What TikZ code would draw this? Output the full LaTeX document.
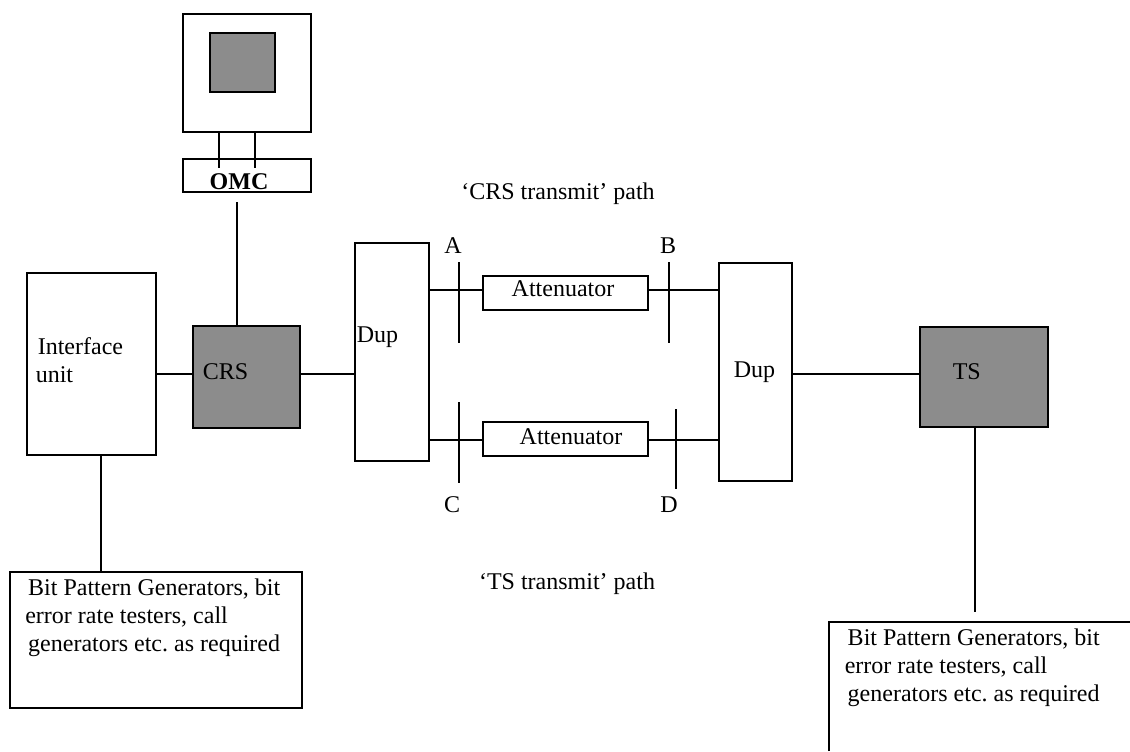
\documentclass[tikz,border=0pt]{standalone}
\usepackage{fontspec}
\setmainfont{Liberation Serif}
\usetikzlibrary{positioning}
\frenchspacing

\begin{document}
\begin{tikzpicture}[x=0.75pt, y=-0.75pt, line width=1.2pt,
                box/.style={draw, inner sep=0pt, outer sep=0pt, anchor=north west},
                darkbox/.style={box, fill=boxgrey},
                lbl/.style={inner sep=0pt, font=\fontsize{18}{21}\selectfont},
                leftlbl/.style={lbl, anchor=west, align=left}]
                \definecolor{boxgrey}{HTML}{8C8C8C}
                \useasboundingbox (0,0) rectangle (1130,751);

                % OMC with its terminal
                \node (term) [box, minimum width=128*0.75pt, minimum height=118*0.75pt] at (183,14) {};
                \node (screen) [darkbox, minimum width=65*0.75pt, minimum height=59*0.75pt] at (210,33) {};
                \node (omc) [box, minimum width=128*0.75pt, minimum height=33*0.75pt] at (183,159) {};
                \node (omclbl) [lbl, font=\fontsize{18}{21}\selectfont\bfseries] at (239,182) {OMC};
                \coordinate (omcl) at (219,168);
                \coordinate (omcr) at (255,168);
                \coordinate (omcout) at (237,202);

                % left hand side
                \node (iface) [box, minimum width=129*0.75pt, minimum height=182*0.75pt] at (27,273) {};
                \node (ifacelbl) [leftlbl] at (35,360) {\hspace{1.5pt}Interface\\unit};
                \node (crs) [darkbox, minimum width=107*0.75pt, minimum height=102*0.75pt] at (193,326) {};
                \node (crslbl) [leftlbl] at (202,372) {CRS};
                \node (bitl) [box, minimum width=292*0.75pt, minimum height=136*0.75pt] at (10,572) {};
                \node (bitllbl) [leftlbl, anchor=north west] at (24.5,578) {\hspace{2.2pt}Bit Pattern Generators, bit\\error rate testers, call\\\hspace{2.2pt}generators etc. as required};

                % duplexers and attenuators
                \node (dupa) [box, minimum width=74*0.75pt, minimum height=218*0.75pt] at (355,243) {};
                \node (dupalbl) [leftlbl] at (356,337) {Dup};
                \node (dupb) [box, minimum width=73*0.75pt, minimum height=218*0.75pt] at (719,263) {};
                \node (dupblbl) [leftlbl] at (733,372) {Dup};
                \node (atta) [box, minimum width=165*0.75pt, minimum height=34*0.75pt] at (483,276) {};
                \node (attalbl) [lbl] at (563,289) {Attenuator};
                \node (attb) [box, minimum width=165*0.75pt, minimum height=34*0.75pt] at (483,422) {};
                \node (attblbl) [lbl] at (571,437) {Attenuator};

                % test points
                \node (lblA) [lbl] at (453,246) {A};
                \node (lblB) [lbl] at (668,246) {B};
                \node (lblC) [lbl] at (452,505) {C};
                \node (lblD) [lbl] at (669,505) {D};
                \coordinate (tickAt) at (459,262);
                \coordinate (tickAb) at (459,343);
                \coordinate (tickBt) at (669,262);
                \coordinate (tickBb) at (669,343);
                \coordinate (tickCt) at (459,402);
                \coordinate (tickCb) at (459,483);
                \coordinate (tickDt) at (676,409);
                \coordinate (tickDb) at (676,489);

                \node (crspath) [lbl] at (558,194) {‘CRS transmit’ path};
                \node (tspath) [lbl] at (567,584) {‘TS transmit’ path};

                % right hand side
                \node (ts) [darkbox, minimum width=128*0.75pt, minimum height=100*0.75pt] at (920,327) {};
                \node (tslbl) [leftlbl] at (952,372) {TS};
                \coordinate (bitrtl) at (829,622);
                \coordinate (bitrtr) at (1130,622);
                \coordinate (bitrbl) at (829,751);
                \coordinate (tsout) at (975,612);
                \node (bitrlbl) [leftlbl, anchor=north west] at (844,628) {\hspace{2.2pt}Bit Pattern Generators, bit\\error rate testers, call\\\hspace{2.2pt}generators etc. as required};

                \draw (bitrbl) -- (bitrtl) -- (bitrtr); % box runs off the page
                \draw (term.south -| omcl) -- (omcl);
                \draw (term.south -| omcr) -- (omcr);
                \draw (omcout) -- (crs.north -| omcout);
                \draw (iface.east |- crs.center) ++(0,2.25pt) coordinate (ifout) -- (crs.west |- ifout);
                \draw (iface.south -| 101,0) -- (bitl.north -| 101,0);
                \draw (crs.east |- ifout) -- (dupa.west |- ifout);
                \draw (dupa.east |- atta.west) ++(0,2.25pt) coordinate (pa) -- (atta.west |- pa);
                \draw (atta.east |- pa) -- (dupb.west |- pa);
                \draw (dupa.east |- attb.west) ++(0,-0.75pt) coordinate (pb) -- (attb.west |- pb);
                \draw (attb.east |- pb) -- (dupb.west |- pb);
                \draw (tickAt) -- (tickAb);
                \draw (tickBt) -- (tickBb);
                \draw (tickCt) -- (tickCb);
                \draw (tickDt) -- (tickDb);
                \draw (dupb.east |- ifout) -- (ts.west |- ifout);
                \draw (ts.south -| tsout) -- (tsout);
\end{tikzpicture}
\end{document}
